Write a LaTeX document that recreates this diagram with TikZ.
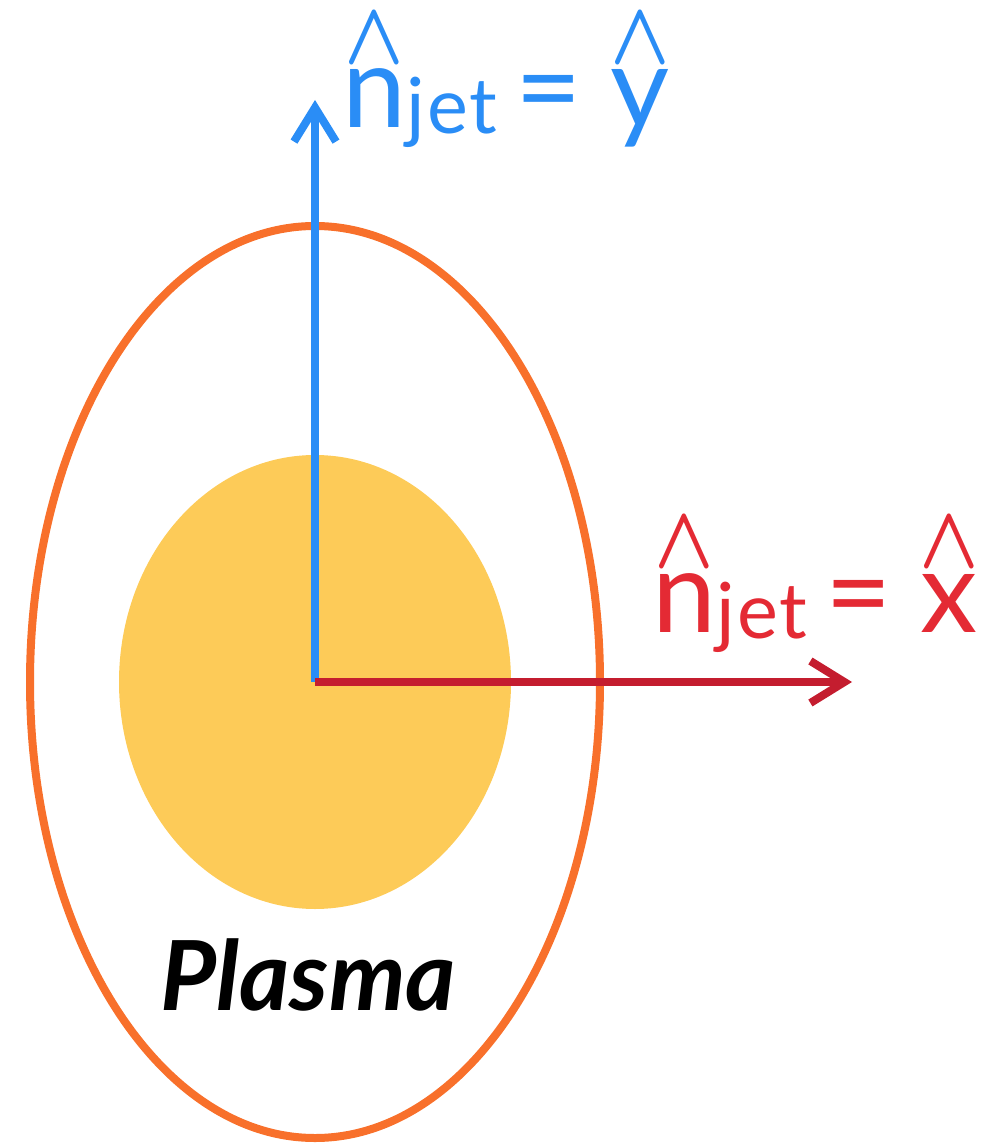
\documentclass[tikz,border=0pt]{standalone}
\usepackage{fontspec}
\setmainfont{Lato}
\usepackage{tikz}
\usetikzlibrary{arrows.meta, calc}
\usepackage{xcolor}

\definecolor{plasmaorange}{HTML}{F8702B}
\definecolor{coreyellow}{HTML}{FDCB58}
\definecolor{jetblue}{HTML}{2A8DF6}
\definecolor{axisred}{HTML}{C41D2F}
\definecolor{labelred}{HTML}{E42A34}

\newcommand\hatted[1]{\leavevmode\ooalign{#1\cr\hidewidth\raisebox{0.56em}{\resizebox{0.52em}{0.43em}{\boldmath$\wedge$}}\hidewidth\cr}}
\newcommand\njet{\hatted{n}\raisebox{-0.6mm}{\fontsize{22}{24}\selectfont j\kern0.03em e\kern0.02em t}}
\newcommand\equalsto{\hspace{0.16em}=\hspace{0.25em}}

\begin{document}
\begin{tikzpicture}[x=0.1mm, y=-0.1mm,
  plasma/.style={draw=plasmaorange, line width=0.8mm},
  core/.style={fill=coreyellow},
  axis/.style={line width=0.8mm, -{Straight Barb[length=3.4mm, width=4.2mm]}},
  unitlabel/.style={anchor=base west, inner sep=0pt, font=\fontsize{32.6}{36}\selectfont}]

\useasboundingbox (0,0) rectangle (1003,1143);

% --- plasma and its hot core ---
\coordinate (centre) at (315,682);
\fill[core] (centre) ellipse [x radius=196, y radius=227];
\draw[plasma] (centre) ellipse [x radius=285, y radius=456];
\node[anchor=base west, inner sep=0pt, font=\fontsize{27.5}{30}\selectfont\bfseries\itshape] (plasmalbl) at (160,1010) {Plasma};

% --- jet directions ---
\coordinate (ytip) at (315,100);
\coordinate (xtip) at (852,682);
\draw[axis, jetblue] (centre) -- (ytip);
\draw[axis, axisred] (centre) -- (xtip);

\node[unitlabel, text=jetblue] (ylbl) at (342,128) {\njet\equalsto\hatted{y}};
\node[unitlabel, text=labelred] (xlbl) at (652,632) {\njet\equalsto\hatted{x}};
\end{tikzpicture}
\end{document}
